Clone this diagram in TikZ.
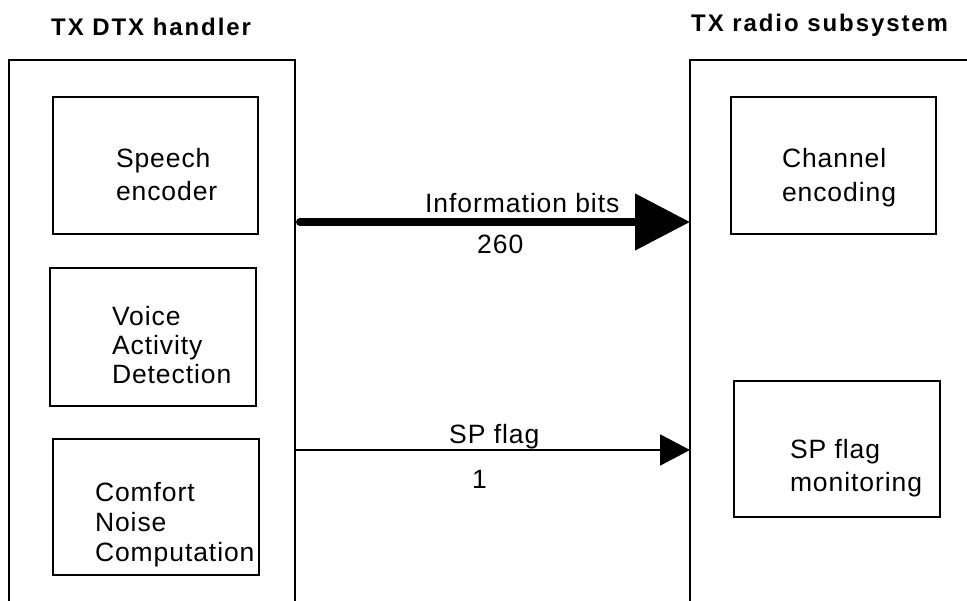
\documentclass[tikz,border=0pt]{standalone}
\usepackage{fontspec}
\setmainfont{Liberation Sans}
\newfontfamily\lblfont[LetterSpace=3.5]{Liberation Sans}
\newfontfamily\ttlfont[LetterSpace=8]{Liberation Sans}
\usetikzlibrary{arrows.meta}
\begin{document}
\begin{tikzpicture}[x=1pt,y=-1pt,
  blk/.style={draw=black, line width=1.1pt, inner sep=0pt, outer sep=0pt},
  frame/.style={draw=black, line width=1.3pt},
  lbl/.style={inner sep=0pt, outer sep=0pt, align=left, anchor=north west},
  ttl/.style={inner sep=0pt, anchor=base west, font=\ttlfont\bfseries\fontsize{24}{28}\selectfont},
  alab/.style={inner sep=0pt, anchor=base west, font=\lblfont\fontsize{26.5}{30}\selectfont},
  thickarrow/.style={line width=8pt, line cap=round, -{Triangle[length=55pt,width=55pt]}},
  thinarrow/.style={line width=2pt, -{Triangle[length=30pt,width=31pt]}}
]
\useasboundingbox (0,0) rectangle (967,601);
\fill[white] (0,0) rectangle (967,601);

% titles
\node[ttl] (tdtx) at (51,36) {TX DTX handler};
\node[ttl] (trad) at (691,32) {TX radio subsystem};

% containers (open at the bottom / right)
\draw[frame] (9,601) -- (9,60) -- (295,60) -- (295,601);
\draw[frame] (690,601) -- (690,60) -- (967,60);

% inner boxes
\node[blk, minimum width=205pt, minimum height=137pt] (se)  at (155.5,165.5) {};
\node[blk, minimum width=206pt, minimum height=138pt] (vad) at (153,337) {};
\node[blk, minimum width=206pt, minimum height=136pt] (cnc) at (156,507) {};
\node[blk, minimum width=205pt, minimum height=137pt] (ce)  at (833.5,165.5) {};
\node[blk, minimum width=206pt, minimum height=136pt] (spm) at (837,449) {};

% box texts
\node[lbl, font=\lblfont\fontsize{26.5}{33}\selectfont] (tse)  at (116,148.5) {Speech\\encoder};
\node[lbl, font=\lblfont\fontsize{26.5}{29}\selectfont] (tvad) at (112,306.5) {Voice\\Activity\\Detection};
\node[lbl, font=\lblfont\fontsize{26.5}{30}\selectfont] (tcnc) at (95,482) {Comfort\\Noise\\Computation};
\node[lbl, font=\lblfont\fontsize{26.5}{34}\selectfont] (tce)  at (782,148) {Channel\\encoding};
\node[lbl, font=\lblfont\fontsize{26.5}{33}\selectfont] (tspm) at (790,439) {SP flag\\monitoring};

% connector end points on the container edges
\coordinate (infoS) at (300,222);
\coordinate (infoE) at (690,222);
\coordinate (spS) at (295,450);
\coordinate (spE) at (690,450);

\draw[thickarrow] (infoS) -- (infoE);
\draw[thinarrow] (spS) -- (spE);

% connector labels
\node[alab] (linfo) at (425,212.5) {Information bits};
\node[alab] (l260) at (477,254) {260};
\node[alab] (lsp) at (449,444) {SP flag};
\node[alab] (l1) at (472,489) {1};
\end{tikzpicture}
\end{document}
